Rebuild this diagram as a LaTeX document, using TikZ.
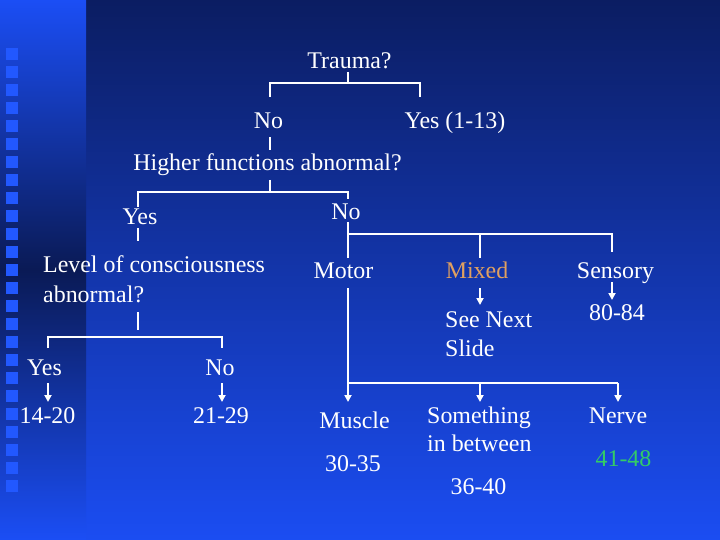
\documentclass[tikz,border=0pt]{standalone}
\usepackage{fontspec}
\setmainfont{Liberation Serif}
\usetikzlibrary{arrows.meta}
\definecolor{bgtop}{HTML}{0B1D62}
\definecolor{bgbot}{HTML}{1B4DF2}
\definecolor{stripbright}{HTML}{1B4EF5}
\definecolor{stripdark}{HTML}{0A1A55}
\definecolor{sqcol}{HTML}{2258FF}
\definecolor{mixedcol}{HTML}{E0A060}
\definecolor{greencol}{HTML}{33CC66}
\begin{document}
\begin{tikzpicture}[x=1bp,y=-1bp,
  txt/.style={text=white,font=\fontsize{24}{29}\selectfont,inner sep=0pt},
  conn/.style={draw=white,line width=2bp},
  arr/.style={conn,-{Triangle[width=7bp,length=7bp]}},
  sq/.style={fill=sqcol}]
\useasboundingbox (0,0) rectangle (720,540);
% background
\fill[top color=bgtop,bottom color=bgbot] (0,0) rectangle (720,540);
\fill[top color=stripbright,bottom color=stripbright,middle color=stripdark] (0,0) rectangle (86,540);
\foreach \k in {0,...,24} \fill[sq] (6,48+18*\k) rectangle (18,60+18*\k);
% text nodes
\node[txt,anchor=base] (trauma) at (349.5,69) {Trauma?};
\node[txt,anchor=base] (no1) at (268.5,129) {No};
\node[txt,anchor=base] (yes1) at (455,129) {Yes (1-13)};
\node[txt,anchor=base] (higher) at (267.5,171) {Higher functions abnormal?};
\node[txt,anchor=base] (yes2) at (140,225) {Yes};
\node[txt,anchor=base] (no2) at (346,220) {No};
\node[txt,anchor=base west] (level) at (43,273) {Level of consciousness};
\node[txt,anchor=base west] (level2) at (43,302) {abnormal?};
\node[txt,anchor=base] (yes3) at (44.5,375) {Yes};
\node[txt,anchor=base] (no3) at (220,375) {No};
\node[txt,anchor=base] (r1420) at (47.5,423) {14-20};
\node[txt,anchor=base] (r2129) at (221,423) {21-29};
\node[txt,anchor=base] (motor) at (343.5,279) {Motor};
\node[txt,anchor=base,text=mixedcol] (mixed) at (477,279) {Mixed};
\node[txt,anchor=base] (sensory) at (615.5,279) {Sensory};
\node[txt,anchor=base west] (seenext) at (445,327) {See Next};
\node[txt,anchor=base west] (slide) at (445,356) {Slide};
\node[txt,anchor=base] (r8084) at (617,320) {80-84};
\node[txt,anchor=base] (muscle) at (354.5,428) {Muscle};
\node[txt,anchor=base] (r3035) at (353,471) {30-35};
\node[txt,anchor=base west] (something) at (427,423) {Something};
\node[txt,anchor=base west] (inbetween) at (427,451) {in between};
\node[txt,anchor=base] (r3640) at (478.5,494) {36-40};
\node[txt,anchor=base] (nerve) at (618,423) {Nerve};
\node[txt,anchor=base,text=greencol] (r4148) at (623.5,466) {41-48};
% connector coordinates
\coordinate (t0) at (348,72);  \coordinate (t1) at (348,83);
\coordinate (tL) at (270,83);  \coordinate (tR) at (420,83);
\coordinate (tLe) at (270,97); \coordinate (tRe) at (420,97);
\coordinate (n0) at (270,137); \coordinate (n1) at (270,150);
\coordinate (h0) at (270,180); \coordinate (h1) at (270,192);
\coordinate (hL) at (138,192); \coordinate (hR) at (348,192);
\coordinate (hLe) at (138,207); \coordinate (hRe) at (348,199);
\coordinate (y0) at (138,228); \coordinate (y1) at (138,241);
\coordinate (l0) at (138,312); \coordinate (l1) at (138,330);
\coordinate (lL) at (48,337);  \coordinate (lR) at (222,337);
\coordinate (lLe) at (48,348); \coordinate (lRe) at (222,348);
\coordinate (ya0) at (48,383); \coordinate (ya1) at (48,402);
\coordinate (na0) at (222,383); \coordinate (na1) at (222,402);
\coordinate (m0) at (348,222); \coordinate (m1) at (348,234);
\coordinate (mx) at (480,234); \coordinate (mR) at (612,234);
\coordinate (mMe) at (348,258); \coordinate (mXe) at (480,258);
\coordinate (mRe) at (612,252);
\coordinate (xa0) at (480,288); \coordinate (xa1) at (480,305);
\coordinate (sa0) at (612,282); \coordinate (sa1) at (612,300);
\coordinate (mo0) at (348,288); \coordinate (mo1) at (348,383);
\coordinate (moM) at (480,383); \coordinate (moR) at (618,383);
\coordinate (muA) at (348,402); \coordinate (soA) at (480,402);
\coordinate (neA) at (618,402);
% connectors
\draw[conn] (t0) -- (t1);
\draw[conn] (tLe) -- (tL) -- (tR) -- (tRe);
\draw[conn] (n0) -- (n1);
\draw[conn] (h0) -- (h1);
\draw[conn] (hLe) -- (hL) -- (hR) -- (hRe);
\draw[conn] (y0) -- (y1);
\draw[conn] (l0) -- (l1);
\draw[conn] (lLe) -- (lL) -- (lR) -- (lRe);
\draw[arr] (ya0) -- (ya1);
\draw[arr] (na0) -- (na1);
\draw[conn] (m0) -- (m1) -- (mR) -- (mRe);
\draw[conn] (m1) -- (mMe);
\draw[conn] (mx) -- (mXe);
\draw[arr] (xa0) -- (xa1);
\draw[arr] (sa0) -- (sa1);
\draw[conn] (mo0) -- (mo1) -- (moR);
\draw[arr] (mo1) -- (muA);
\draw[arr] (moM) -- (soA);
\draw[arr] (moR) -- (neA);
\end{tikzpicture}
\end{document}
